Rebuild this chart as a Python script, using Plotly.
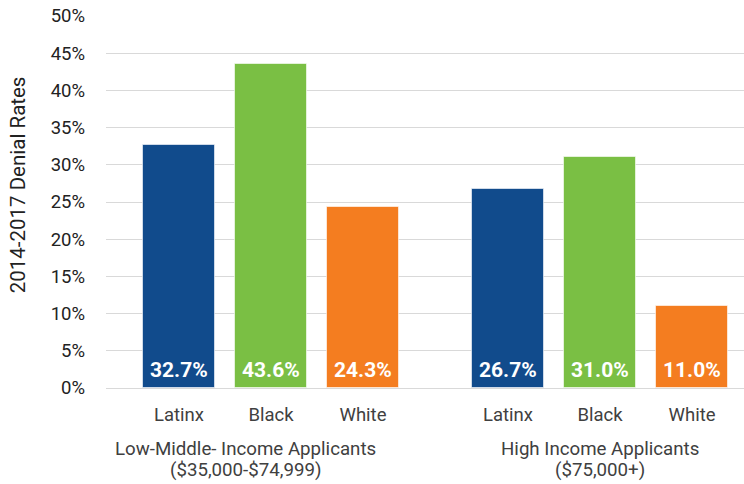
import plotly.graph_objects as go

# Denial rates (%) by applicant race within each income band
group_titles = ["Low-Middle- Income Applicants", "High Income Applicants"]
group_ranges = ["($35,000-$74,999)", "($75,000+)"]
races = ["Latinx", "Black", "White"]
low_middle = [32.7, 43.6, 24.3]
high_income = [26.7, 31.0, 11.0]
colors = ["#114B8C", "#7ABF44", "#F47D20"]

series = [low_middle, high_income]
GROUP_STEP = 3.576   # distance between first bars of consecutive groups (in bar slots)
BAR_WIDTH = 0.783
LABEL_SHIFT = [-25, 0]  # horizontal nudge of each group caption (px)

fig = go.Figure()
tickvals, ticktext = [], []
for g, vals in enumerate(series):
    xs = [g * GROUP_STEP + i for i in range(len(races))]
    fig.add_trace(go.Bar(
        x=xs, y=vals, width=BAR_WIDTH,
        marker=dict(color=colors, line=dict(color="rgba(255,255,255,0.6)", width=1)),
        showlegend=False, hoverinfo="skip",
    ))
    for x, v in zip(xs, vals):
        fig.add_annotation(x=x, y=0, yref="y", text=f"<b>{v:.1f}%</b>",
                           showarrow=False, yanchor="middle", yshift=18,
                           font=dict(family="Roboto", size=21, color="white"))
    tickvals += xs
    ticktext += races
    cx = sum(xs) / len(xs)
    for line, ypos in ((group_titles[g], -0.164), (group_ranges[g], -0.221)):
        fig.add_annotation(x=cx, y=ypos, xref="x", yref="paper", text=line,
                           showarrow=False, yanchor="middle", xshift=LABEL_SHIFT[g],
                           font=dict(family="Roboto", size=18.7, color="#404040"))

# vertical axis caption
fig.add_annotation(text="2014-2017 Denial Rates", textangle=-90,
                   xref="paper", yref="paper", x=0, y=0.545, xshift=-88,
                   showarrow=False, xanchor="center", yanchor="middle",
                   font=dict(family="Roboto", size=20.5, color="#222222"))

fig.update_layout(
    width=744, height=484,
    margin=dict(l=106, r=0, t=16, b=96),
    plot_bgcolor="white", paper_bgcolor="white",
    font=dict(family="Roboto", color="#333333"),
    xaxis=dict(range=[-0.793, 6.141], tickvals=tickvals, ticktext=ticktext,
               showgrid=False, zeroline=False, showline=False, ticks="",
               tickfont=dict(size=18.5, color="#404040"), ticklabelstandoff=13),
    yaxis=dict(range=[0, 50], dtick=5, ticksuffix="%",
               showgrid=True, gridcolor="#D9D9D9", gridwidth=1,
               zeroline=True, zerolinecolor="#D9D9D9", zerolinewidth=1,
               tickfont=dict(size=18.5, color="#222222"), ticklabelstandoff=20),
    bargap=0,
)

fig.write_html("out.html")
